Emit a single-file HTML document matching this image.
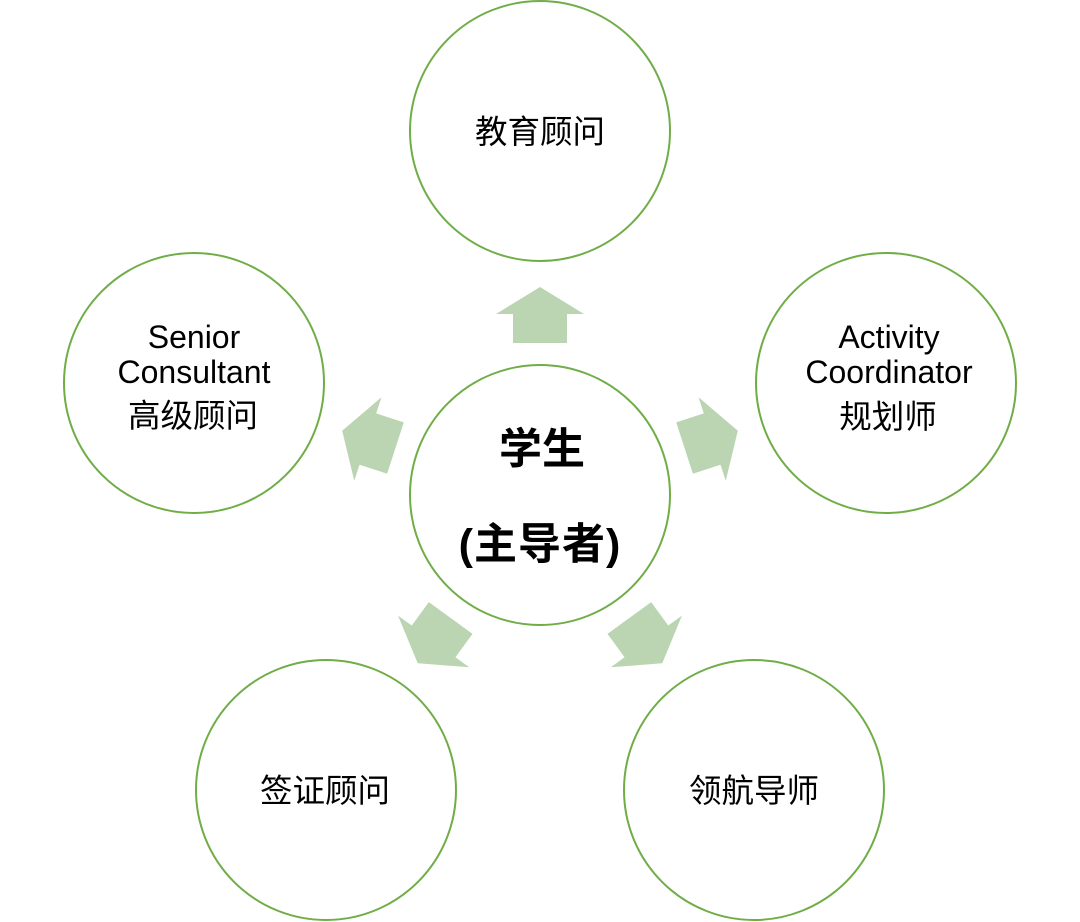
<!DOCTYPE html>
<html>
<head>
<meta charset="utf-8">
<style>
  html, body { margin: 0; padding: 0; background: #ffffff; }
  body { width: 1080px; height: 922px; overflow: hidden; }
  svg { display: block; }
  text { font-family: "Liberation Sans", "Noto Sans CJK SC", sans-serif; fill: #000; }
</style>
</head>
<body>
<svg width="1080" height="922" viewBox="0 0 1080 922" xmlns="http://www.w3.org/2000/svg">
  <!-- arrows -->
  <g fill="#bbd5b2">
    <polygon points="540,287 584,314 567,314 567,343 513,343 513,314 496,314"/>
    <polygon points="540,287 584,314 567,314 567,343 513,343 513,314 496,314" transform="rotate(72 540 495)"/>
    <polygon points="540,287 584,314 567,314 567,343 513,343 513,314 496,314" transform="rotate(144 540 495)"/>
    <polygon points="540,287 584,314 567,314 567,343 513,343 513,314 496,314" transform="rotate(216 540 495)"/>
    <polygon points="540,287 584,314 567,314 567,343 513,343 513,314 496,314" transform="rotate(288 540 495)"/>
  </g>
  <!-- circles -->
  <g fill="#ffffff" stroke="#70ad47" stroke-width="2">
    <circle cx="540" cy="495" r="130"/>
    <circle cx="540" cy="131" r="130"/>
    <circle cx="886" cy="383" r="130"/>
    <circle cx="194" cy="383" r="130"/>
    <circle cx="754" cy="790" r="130"/>
    <circle cx="326" cy="790" r="130"/>
  </g>
  <!-- labels -->
  <g text-anchor="middle" font-size="32">
    <text x="540" y="143" font-size="32.5">教育顾问</text>

    <text x="194" y="348">Senior</text>
    <text x="194" y="383">Consultant</text>
    <text x="193" y="427" font-size="32.5">高级顾问</text>

    <text x="889" y="348">Activity</text>
    <text x="889" y="383">Coordinator</text>
    <text x="888" y="428" font-size="32.5">规划师</text>

    <text x="325" y="802" font-size="32.5">签证顾问</text>
    <text x="754" y="802" font-size="32.5">领航导师</text>

    <text x="542" y="464" font-size="43" font-weight="bold">学生</text>
    <text x="540" y="559" font-size="43" font-weight="bold" letter-spacing="1">(主导者)</text>
  </g>
</svg>
</body>
</html>
